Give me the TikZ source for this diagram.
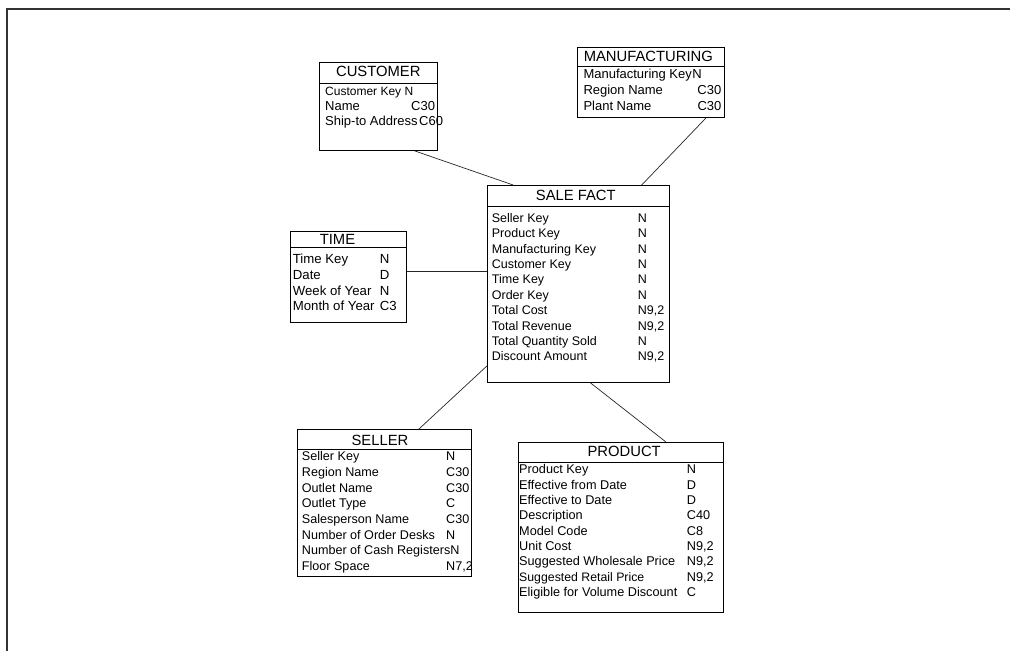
\documentclass[tikz,border=0pt]{standalone}
\usepackage{fontspec}
\setmainfont{Liberation Sans}
\usetikzlibrary{calc}
\begin{document}
\begin{tikzpicture}[x=1pt,y=-1pt,
  tbox/.style={draw=black,line width=0.9pt,inner sep=0pt,anchor=north west},
  hline/.style={draw=black,line width=0.9pt},
  conn/.style={draw=black!85,line width=0.7pt},
  ttl/.style={inner sep=0pt,anchor=center,font=\fontsize{14.8}{15}\selectfont},
  rowA/.style={inner sep=0pt,anchor=base west,font=\fontsize{12.5}{13}\selectfont},
  rowB/.style={inner sep=0pt,anchor=base west,font=\fontsize{13}{13}\selectfont},
  rowC/.style={inner sep=0pt,anchor=base west,font=\fontsize{12.6}{13}\selectfont},
  rowD/.style={inner sep=0pt,anchor=base west,font=\fontsize{12.7}{13}\selectfont},
  rowT/.style={inner sep=0pt,anchor=base west,font=\fontsize{13.2}{13}\selectfont}]
\useasboundingbox (0,0) rectangle (1010,651);
% frame
\draw[line width=1.8pt,black!80] (1012,9.3) -- (7.3,9.3) -- (7.3,653);

% ---------- CUSTOMER ----------
\node[tbox,minimum width=118pt,minimum height=88.3pt] (cust) at (319,61.7) {};
\draw[hline] ($(cust.north west)+(0,21.6)$) -- ($(cust.north east)+(0,21.6)$);
\node[ttl] (custT) at (378.3,71.7) {CUSTOMER};
\node[inner sep=0pt,anchor=base west,font=\fontsize{12}{12}\selectfont] (c1) at (325,95.2) {Customer Key N};
\node[rowB] (c2) at (325,110.7) {\makebox[86pt][l]{Name}C30};
\node[rowB] (c3) at (325,125.4) {\makebox[94pt][l]{Ship-to Address}C60};

% ---------- MANUFACTURING ----------
\node[tbox,minimum width=146.7pt,minimum height=70.6pt] (manu) at (577.3,46.7) {};
\draw[hline] ($(manu.north west)+(0,20)$) -- ($(manu.north east)+(0,20)$);
\node[ttl] (manuT) at (648.3,56) {MANUFACTURING};
\node[rowB] (m1) at (583.3,78) {\makebox[109pt][l]{Manufacturing Key}N};
\node[rowB] (m2) at (583.3,94.7) {\makebox[114pt][l]{Region Name}C30};
\node[rowB] (m3) at (583.3,110.7) {\makebox[114pt][l]{Plant Name}C30};

% ---------- SALE FACT ----------
\node[tbox,minimum width=182pt,minimum height=197pt] (sale) at (487,185) {};
\draw[hline] ($(sale.north west)+(0,21.7)$) -- ($(sale.north east)+(0,21.7)$);
\node[ttl] (saleT) at (575.8,195) {SALE FACT};
\node[rowA] (s1) at (491.7,222.2) {\makebox[146pt][l]{Seller Key}N};
\node[rowA] (s2) at (491.7,237.6) {\makebox[146pt][l]{Product Key}N};
\node[rowA] (s3) at (491.7,253.0) {\makebox[146pt][l]{Manufacturing Key}N};
\node[rowA] (s4) at (491.7,268.4) {\makebox[146pt][l]{Customer Key}N};
\node[rowA] (s5) at (491.7,283.8) {\makebox[146pt][l]{Time Key}N};
\node[rowA] (s6) at (491.7,299.2) {\makebox[146pt][l]{Order Key}N};
\node[rowA] (s7) at (491.7,314.6) {\makebox[146pt][l]{Total Cost}N9,2};
\node[rowA] (s8) at (491.7,330.0) {\makebox[146pt][l]{Total Revenue}N9,2};
\node[rowA] (s9) at (491.7,345.4) {\makebox[146pt][l]{Total Quantity Sold}N};
\node[rowA] (s10) at (491.7,360.8) {\makebox[146pt][l]{Discount Amount}N9,2};

% ---------- TIME ----------
\node[tbox,minimum width=116pt,minimum height=91pt] (time) at (290,231) {};
\draw[hline] ($(time.north west)+(0,16)$) -- ($(time.north east)+(0,16)$);
\node[ttl] (timeT) at (337.5,239) {TIME};
\node[rowT] (t1) at (292.7,263) {\makebox[87pt][l]{Time Key}N};
\node[rowT] (t2) at (292.7,279) {\makebox[87pt][l]{Date}D};
\node[rowT] (t3) at (292.7,295) {\makebox[87pt][l]{Week of Year}N};
\node[rowT] (t4) at (292.7,310.7) {\makebox[87pt][l]{Month of Year}C3};

% ---------- SELLER ----------
\node[tbox,minimum width=173.7pt,minimum height=146.7pt] (sell) at (297.3,429.3) {};
\draw[hline] ($(sell.north west)+(0,20)$) -- ($(sell.north east)+(0,20)$);
\node[ttl] (sellT) at (380,440.7) {SELLER};
\node[rowC] (e1) at (301.7,460.8) {\makebox[144.3pt][l]{Seller Key}N};
\node[rowC] (e2) at (301.7,476.5) {\makebox[144.3pt][l]{Region Name}C30};
\node[rowC] (e3) at (301.7,492.1) {\makebox[144.3pt][l]{Outlet Name}C30};
\node[rowC] (e4) at (301.7,507.8) {\makebox[144.3pt][l]{Outlet Type}C};
\node[rowC] (e5) at (301.7,523.5) {\makebox[144.3pt][l]{Salesperson Name}C30};
\node[rowC] (e6) at (301.7,539.1) {\makebox[144.3pt][l]{Number of Order Desks}N};
\node[rowC] (e7) at (301.7,554.8) {\makebox[148.6pt][l]{Number of Cash Registers}N};
\node[rowC] (e8) at (301.7,570.5) {\makebox[144.3pt][l]{Floor Space}N7,2};

% ---------- PRODUCT ----------
\node[tbox,minimum width=205.6pt,minimum height=170pt] (prod) at (517.7,441.7) {};
\draw[hline] ($(prod.north west)+(0,21)$) -- ($(prod.north east)+(0,21)$);
\node[ttl] (prodT) at (624.2,451.7) {PRODUCT};
\node[rowD] (p1) at (519,473.9) {\makebox[167.7pt][l]{Product Key}N};
\node[rowD] (p2) at (519,489.2) {\makebox[167.7pt][l]{Effective from Date}D};
\node[rowD] (p3) at (519,504.5) {\makebox[167.7pt][l]{Effective to Date}D};
\node[rowD] (p4) at (519,519.8) {\makebox[167.7pt][l]{Description}C40};
\node[rowD] (p5) at (519,535.1) {\makebox[167.7pt][l]{Model Code}C8};
\node[rowD] (p6) at (519,550.4) {\makebox[167.7pt][l]{Unit Cost}N9,2};
\node[rowD] (p7) at (519,565.7) {\makebox[167.7pt][l]{Suggested Wholesale Price}N9,2};
\node[rowD] (p8) at (519,581.0) {\makebox[167.7pt][l]{\fontsize{12.3}{13}\selectfont Suggested Retail Price}N9,2};
\node[rowD] (p9) at (519,596.3) {\makebox[167.7pt][l]{Eligible for Volume Discount}C};

% ---------- connectors ----------
\draw[conn] ($(cust.south west)!0.805!(cust.south east)$) -- ($(sale.north west)!0.143!(sale.north east)$);
\draw[conn] ($(manu.south west)!0.870!(manu.south east)$) -- ($(sale.north west)!0.846!(sale.north east)$);
\coordinate (tcon) at ($(time.north east)!0.44!(time.south east)$);
\draw[conn] (tcon) -- (tcon -| sale.west);
\draw[conn] ($(sell.north west)!0.695!(sell.north east)$) -- ($(sale.north west)!0.914!(sale.south west)$);
\draw[conn] ($(prod.north west)!0.716!(prod.north east)$) -- ($(sale.south west)!0.566!(sale.south east)$);
\end{tikzpicture}
\end{document}
